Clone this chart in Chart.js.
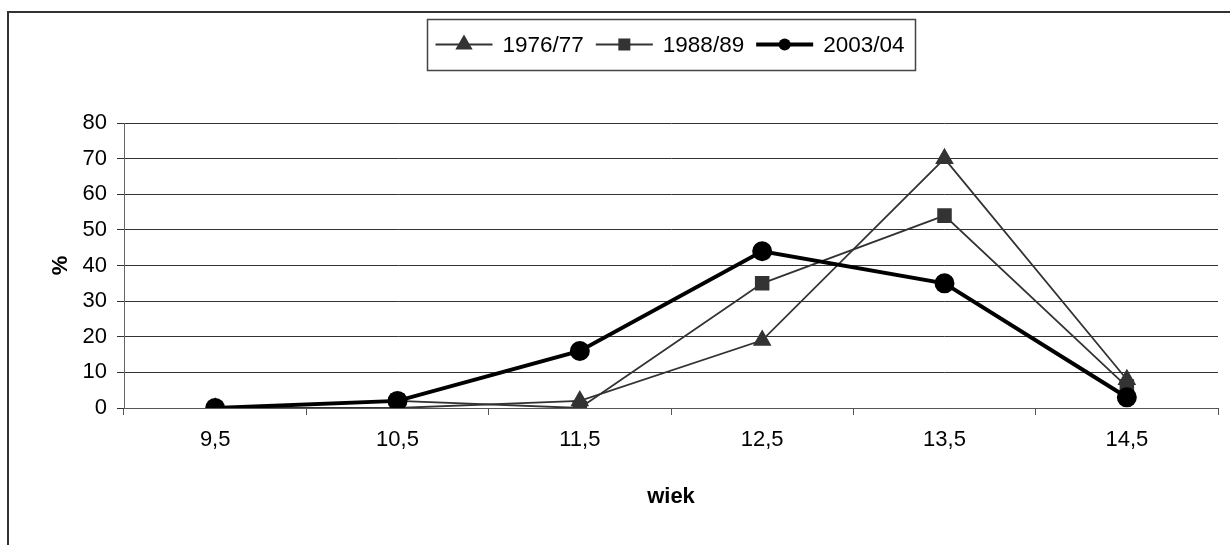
<!DOCTYPE html>
<html>
<head>
<meta charset="utf-8">
<script src="https://cdn.jsdelivr.net/npm/chart.js@4.4.0/dist/chart.umd.min.js"></script>
<style>
  html, body { margin: 0; padding: 0; background: #fff; }
  #wrap { position: relative; width: 1230px; height: 545px; overflow: hidden; }
  #frame { position: absolute; left: 7px; top: 11px; width: 1300px; height: 600px; border: 2px solid #333; }
  canvas { position: absolute; left: 0; top: 0; }
</style>
</head>
<body>
<div id="wrap">
  <div id="frame"></div>
  <canvas id="chart" width="1230" height="545"></canvas>
</div>
<script>
// data
const categories = ['9,5', '10,5', '11,5', '12,5', '13,5', '14,5'];
const series1976 = [0, 0, 2, 19, 70, 8];
const series1988 = [0, 2, 0, 35, 54, 6];
const series2003 = [0, 2, 16, 44, 35, 3];
const seriesNames = ['1976/77', '1988/89', '2003/04'];
const yTicks = [0, 10, 20, 30, 40, 50, 60, 70, 80];

Chart.defaults.font.family = '"Liberation Sans", Arial, sans-serif';
Chart.defaults.color = '#000';

// simple marker drawing, used for the boxed legend
function drawMarker(ctx, style, x, y, r, color) {
  ctx.fillStyle = color;
  ctx.beginPath();
  if (style === 'triangle') {
    ctx.moveTo(x, y - r);
    ctx.lineTo(x + r * 0.866, y + r / 2);
    ctx.lineTo(x - r * 0.866, y + r / 2);
    ctx.closePath();
  } else if (style === 'rect') {
    const s = r * Math.SQRT1_2;
    ctx.rect(x - s, y - s, 2 * s, 2 * s);
  } else {
    ctx.arc(x, y, r, 0, Math.PI * 2);
  }
  ctx.fill();
}

const boxLegend = {
  id: 'boxLegend',
  afterDraw(chart) {
    const ctx = chart.ctx;
    const area = chart.chartArea;
    const lineLen = 57, textGap = 10, itemGap = 12, padL = 8, padR = 11;
    ctx.save();
    ctx.font = '22.5px "Liberation Sans", Arial, sans-serif';
    const sets = chart.data.datasets;
    let total = padL + padR;
    sets.forEach((ds, i) => {
      total += lineLen + textGap + ctx.measureText(ds.label).width;
      if (i < sets.length - 1) total += itemGap;
    });
    const top = 19, h = 51;
    const left = Math.round((area.left + area.right) / 2 - total / 2) + 0.5;
    ctx.strokeStyle = '#444';
    ctx.lineWidth = 1.5;
    ctx.strokeRect(left, top + 0.5, total, h);
    const cy = top + h / 2;
    let x = left + padL;
    sets.forEach((ds) => {
      ctx.strokeStyle = ds.borderColor;
      ctx.lineWidth = ds.borderWidth;
      ctx.beginPath();
      ctx.moveTo(x, cy);
      ctx.lineTo(x + lineLen, cy);
      ctx.stroke();
      drawMarker(ctx, ds.pointStyle, x + lineLen / 2, cy, ds.legendRadius, ds.pointBackgroundColor);
      x += lineLen + textGap;
      ctx.fillStyle = '#000';
      ctx.textBaseline = 'middle';
      ctx.textAlign = 'left';
      ctx.fillText(ds.label, x, cy + 1);
      x += ctx.measureText(ds.label).width + itemGap;
    });
    ctx.restore();
  }
};

const ctx = document.getElementById('chart').getContext('2d');
new Chart(ctx, {
  type: 'line',
  data: {
    labels: categories,
    datasets: [{
      label: seriesNames[0],
      data: series1976,
      borderColor: '#333',
      backgroundColor: '#333',
      pointBackgroundColor: '#333',
      pointBorderColor: '#333',
      borderWidth: 1.8,
      pointStyle: 'triangle',
      pointRadius: 9,
      legendRadius: 10,
      tension: 0,
      order: 2
    }, {
      label: seriesNames[1],
      data: series1988,
      borderColor: '#333',
      backgroundColor: '#333',
      pointBackgroundColor: '#333',
      pointBorderColor: '#333',
      borderWidth: 1.8,
      pointStyle: 'rect',
      pointRadius: 9,
      legendRadius: 8.5,
      tension: 0,
      order: 1
    }, {
      label: seriesNames[2],
      data: series2003,
      borderColor: '#000',
      backgroundColor: '#000',
      pointBackgroundColor: '#000',
      pointBorderColor: '#000',
      borderWidth: 4,
      pointStyle: 'circle',
      pointRadius: 8,
      legendRadius: 6,
      tension: 0,
      order: 0
    }]
  },
  options: {
    responsive: false,
    animation: false,
    layout: {
      padding: { top: 123, right: 8, left: 0, bottom: 0 }
    },
    plugins: {
      legend: { display: false },
      tooltip: { enabled: false }
    },
    scales: {
      x: {
        offset: true,
        afterFit(scale) { scale.height = 137; },
        grid: {
          offset: true,
          drawOnChartArea: false,
          color: '#555',
          tickLength: 7
        },
        border: { color: '#555', width: 1 },
        ticks: {
          padding: 12,
          font: { size: 22 }
        },
        title: {
          display: true,
          text: 'wiek',
          font: { size: 22, weight: 'bold' },
          padding: { top: 0, bottom: 35 }
        }
      },
      y: {
        min: yTicks[0],
        max: yTicks[yTicks.length - 1],
        afterFit(scale) { scale.width = 124; },
        grid: {
          color: '#333',
          lineWidth: 1,
          tickLength: 7
        },
        border: { color: '#666', width: 1 },
        ticks: {
          stepSize: yTicks[1] - yTicks[0],
          padding: 10,
          font: { size: 22 }
        },
        title: {
          display: true,
          text: '%',
          font: { size: 22, weight: 'bold' },
          padding: { top: 48, bottom: 0 }
        }
      }
    }
  },
  plugins: [boxLegend]
});
</script>
</body>
</html>
